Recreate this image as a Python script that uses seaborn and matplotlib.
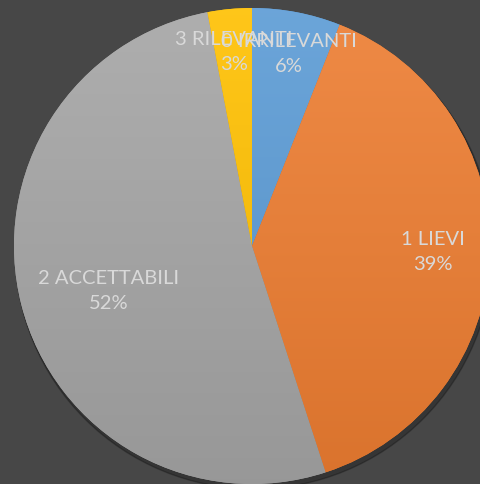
import matplotlib
matplotlib.use('Agg')
import matplotlib.pyplot as plt
import matplotlib.colors as mcolors
import numpy as np
import seaborn as sns

categories = ['0 IRRILEVANTI', '1 LIEVI', '2 ACCETTABILI', '3 RILEVANTI']
percent = [6, 39, 52, 3]
colors = ['#5b9bd5', '#ed7d31', '#a5a5a5', '#ffc000']

sns.set_theme(style='dark')
plt.rcParams['font.family'] = ['Lato', 'DejaVu Sans']

fig = plt.figure(figsize=(4.81, 4.84), dpi=100, facecolor='#474747')
ax = fig.add_axes([0, 0, 1, 1])
ax.set_facecolor('#474747')

cx, cy, r = 252, 238, 238

# soft shadow under the pie
shadow = plt.Circle((cx + 2, cy - 4), r + 1, color='black', alpha=0.25, zorder=0)
ax.add_patch(shadow)

wedges, _ = ax.pie(percent, colors=colors, startangle=90, counterclock=False,
                   center=(cx, cy), radius=r, frame=True,
                   wedgeprops=dict(linewidth=0))

# vertical gradient in each slice (lighter on top)
grad = np.linspace(0, 1, 256)[:, None]
for w, c in zip(wedges, colors):
    base = np.array(mcolors.to_rgb(c))
    top = base + (1 - base) * 0.10
    bottom = base * 0.92
    cmap = mcolors.LinearSegmentedColormap.from_list('g', [bottom, top])
    im = ax.imshow(grad, cmap=cmap, extent=(cx - r, cx + r, cy - r, cy + r),
                   origin='lower', aspect='auto', zorder=2)
    im.set_clip_path(w)

# label distances/angle tweaks as Excel "best fit" placed them
label_dist = [0.82, 0.76, 0.63, 0.82]
label_shift = [0, 0, 3, 0]
ang = 90
for name, p, d, s in zip(categories, percent, label_dist, label_shift):
    mid = np.deg2rad(ang - p * 3.6 / 2 + s)
    ang -= p * 3.6
    ax.text(cx + d * r * np.cos(mid), cy + d * r * np.sin(mid), f'{name}\n{p}%',
            ha='center', va='center', color='#d9d9d9', fontsize=14.5,
            linespacing=1.55, zorder=5)

ax.set_xlim(0, 481)
ax.set_ylim(0, 484)
ax.set_aspect('equal')
ax.axis('off')

fig.savefig('out.png', dpi=100, facecolor=fig.get_facecolor())
